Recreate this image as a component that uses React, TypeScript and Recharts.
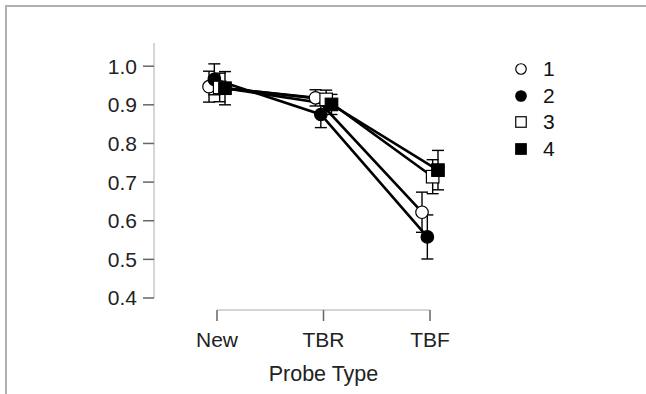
import { ComposedChart, Line, XAxis, YAxis, ErrorBar, Label } from 'recharts';

const probeTypes = ['New', 'TBR', 'TBF'];
const seriesNames = ['1', '2', '3', '4'];

const s1Means = [0.947, 0.918, 0.622];
const s1Errs = [0.04, 0.021, 0.052];
const s2Means = [0.966, 0.875, 0.558];
const s2Errs = [0.04, 0.034, 0.057];
const s3Means = [0.945, 0.914, 0.714];
const s3Errs = [0.037, 0.024, 0.044];
const s4Means = [0.943, 0.901, 0.731];
const s4Errs = [0.043, 0.026, 0.051];

const yTicks = [0.4, 0.5, 0.6, 0.7, 0.8, 0.9, 1.0];

// horizontal dodge so the four groups don't sit on top of each other
const dodge = [-0.075, -0.025, 0.025, 0.075];
const markerKinds = ['openCircle', 'filledCircle', 'openSquare', 'filledSquare'];

const FONT = '"Liberation Sans", Arial, sans-serif';
const W = 646;
const H = 394;

// layout (pixels)
const Y_AXIS_X = 154;
const PLOT_TOP = 43;
const X_AXIS_Y = 310;
const FIRST_CAT_X = 217;
const LAST_CAT_X = 430;
const Y_PAD_BOTTOM = 12;
const Y_AXIS_W = 60;
const X_AXIS_H = 76;

const unit = (LAST_CAT_X - FIRST_CAT_X) / (probeTypes.length - 1);
const dodgePx = Math.max(...dodge.map(Math.abs)) * unit;
const plotRight = LAST_CAT_X + dodgePx;
const xPadLeft = FIRST_CAT_X - dodgePx - Y_AXIS_X;

const means = [s1Means, s2Means, s3Means, s4Means];
const errs = [s1Errs, s2Errs, s3Errs, s4Errs];

const seriesData = means.map((m, s) =>
  probeTypes.map((_, i) => ({ x: i + dodge[s], y: m[i], err: errs[s][i] }))
);

function Marker({ cx, cy, kind, size }: { cx: number; cy: number; kind: string; size: number }) {
  const fill = kind.startsWith('filled') ? '#000' : '#fff';
  if (kind.endsWith('Circle')) {
    return <circle cx={cx} cy={cy} r={size / 2} fill={fill} stroke="#000" strokeWidth={1.2} />;
  }
  return (
    <rect x={cx - size / 2} y={cy - size / 2} width={size} height={size} fill={fill} stroke="#000" strokeWidth={1.2} />
  );
}

function LegendBox() {
  return (
    <div style={{ position: 'absolute', left: 514, top: 56, fontFamily: FONT, fontSize: 21, color: '#111' }}>
      {seriesNames.map((name, s) => (
        <div key={name} style={{ display: 'flex', alignItems: 'center', height: 26.5 }}>
          <svg width={14} height={14}>
            <Marker cx={7} cy={7} kind={markerKinds[s]} size={10.5} />
          </svg>
          <span style={{ marginLeft: 15 }}>{name}</span>
        </div>
      ))}
    </div>
  );
}

export default function App() {
  return (
    <div style={{ position: 'absolute', left: 0, top: 0, width: W, height: H, background: '#fff' }}>
      <div
        style={{
          position: 'absolute',
          left: 5,
          top: 5,
          width: W - 5,
          height: H - 5,
          borderTop: '2px solid #b0b0b0',
          borderLeft: '2px solid #b0b0b0',
          boxSizing: 'border-box',
        }}
      />
      <div style={{ position: 'absolute', left: 0, top: 0 }}>
        <ComposedChart
          width={W}
          height={H}
          margin={{
            top: PLOT_TOP,
            right: W - plotRight,
            bottom: H - X_AXIS_Y - X_AXIS_H,
            left: Y_AXIS_X - Y_AXIS_W,
          }}
        >
          <XAxis
            type="number"
            dataKey="x"
            domain={[dodge[0], probeTypes.length - 1 + dodge[dodge.length - 1]]}
            ticks={probeTypes.map((_, i) => i)}
            tickFormatter={(v: number) => probeTypes[Math.round(v)]}
            padding={{ left: xPadLeft, right: 0 }}
            height={X_AXIS_H}
            axisLine={{
              stroke: '#c8c8c8',
              strokeWidth: 1.5,
              strokeDasharray: `0 ${FIRST_CAT_X - Y_AXIS_X} ${LAST_CAT_X - FIRST_CAT_X} 2000`,
            }}
            tickLine={{ stroke: '#666', strokeWidth: 1.5 }}
            tickSize={11}
            tickMargin={11}
            tick={{ fill: '#222', fontSize: 21, fontFamily: FONT }}
          >
            <Label
              value="Probe Type"
              position="insideBottom"
              offset={5}
              dx={(FIRST_CAT_X + LAST_CAT_X) / 2 - (Y_AXIS_X + plotRight) / 2}
              style={{ fill: '#222', fontSize: 21.5, fontFamily: FONT }}
            />
          </XAxis>
          <YAxis
            type="number"
            domain={[0.4, 1.06]}
            ticks={yTicks}
            tickFormatter={(v: number) => v.toFixed(1)}
            padding={{ top: 0, bottom: Y_PAD_BOTTOM }}
            width={Y_AXIS_W}
            axisLine={{
              stroke: '#c8c8c8',
              strokeWidth: 1.5,
              strokeDasharray: `${X_AXIS_Y - PLOT_TOP - Y_PAD_BOTTOM} 2000`,
            }}
            tickLine={{ stroke: '#666', strokeWidth: 1.5 }}
            tickSize={11}
            tickMargin={6}
            tick={{ fill: '#222', fontSize: 21, fontFamily: FONT }}
          />
          {seriesData.map((d, s) => (
            <Line
              key={`line-${s}`}
              data={d}
              dataKey="y"
              type="linear"
              stroke="#000"
              strokeWidth={2.6}
              dot={false}
              activeDot={false}
              isAnimationActive={false}
            />
          ))}
          {seriesData.map((d, s) => (
            <Line
              key={`pts-${s}`}
              data={d}
              dataKey="y"
              stroke="none"
              activeDot={false}
              isAnimationActive={false}
              dot={(p: any) => (
                <Marker key={`m-${s}-${p.index}`} cx={p.cx} cy={p.cy} kind={markerKinds[s]} size={12.5} />
              )}
            >
              <ErrorBar dataKey="err" direction="y" width={6} stroke="#000" strokeWidth={1.4} />
            </Line>
          ))}
        </ComposedChart>
      </div>
      <LegendBox />
    </div>
  );
}
